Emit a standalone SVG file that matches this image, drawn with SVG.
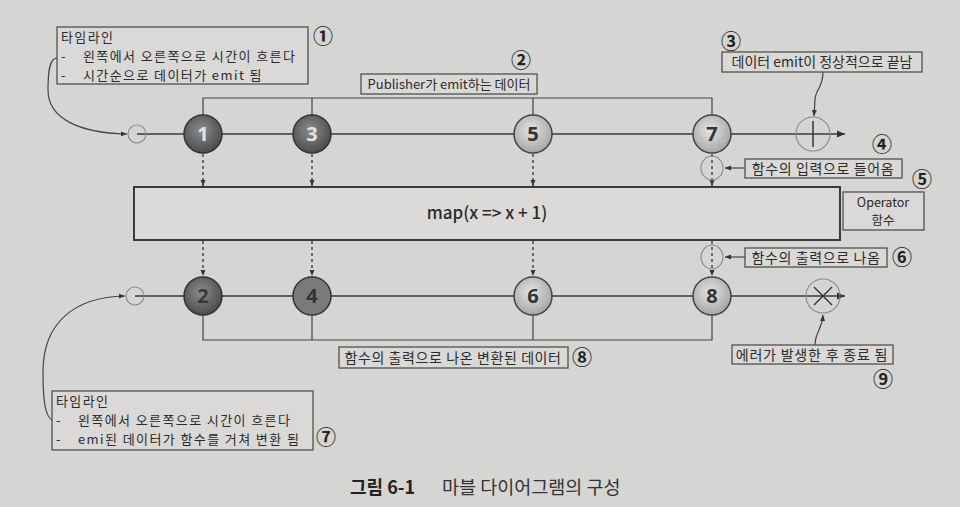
<svg xmlns="http://www.w3.org/2000/svg" width="960" height="507" viewBox="0 0 960 507">
<defs>
<style>
.t{font-family:"Noto Sans CJK KR","Noto Sans",sans-serif;fill:#2b2b2b;font-size:14px}
.c{text-anchor:middle}
.big{font-size:13px;letter-spacing:1.4px}
.num{font-family:"Noto Sans","Liberation Sans",sans-serif;font-weight:bold;font-size:20px;text-anchor:middle}
.cn{font-family:"Noto Sans CJK KR",sans-serif;font-weight:bold;font-size:20px;fill:#222;text-anchor:middle}
.box{fill:#dad9d7;stroke:#505050;stroke-width:1.3}
.ln{fill:none;stroke:#3a3a3a;stroke-width:1.5}
.thin{fill:none;stroke:#444;stroke-width:1.2}
.dash{fill:none;stroke:#333;stroke-width:1.3;stroke-dasharray:3 3}
.ghost{fill:none;stroke:#8a8a8a;stroke-width:1.1}
.dk{stroke:#333;stroke-width:1.5;fill:url(#gd)}
.lt{stroke:#444;stroke-width:1.5;fill:url(#gl)}
</style>
<radialGradient id="gd" cx="0.45" cy="0.4" r="0.6"><stop offset="0" stop-color="#8c8c8c"/><stop offset="1" stop-color="#4c4c4c"/></radialGradient>
<radialGradient id="gl" cx="0.45" cy="0.4" r="0.6"><stop offset="0" stop-color="#e4e4e2"/><stop offset="1" stop-color="#a6a6a4"/></radialGradient>
<marker id="ah" viewBox="0 0 8 8" refX="8" refY="4" markerWidth="8" markerHeight="8" markerUnits="userSpaceOnUse" orient="auto"><path d="M0,0.5 L8,4 L0,7.5 z" fill="#333"/></marker>
<marker id="as" viewBox="0 0 6 6" refX="6" refY="3" markerWidth="6" markerHeight="6" markerUnits="userSpaceOnUse" orient="auto"><path d="M0,0.5 L6,3 L0,5.5 z" fill="#333"/></marker>
</defs>
<rect width="960" height="507" fill="#d5d5d3"/>

<g id="connectors">
<path class="ln" d="M137,134 H845" marker-end="url(#ah)"/>
<path class="ln" d="M135,296 H845" marker-end="url(#ah)"/>
<path class="thin" d="M203,115 V98 H712 V115 M312,98 V115 M533,98 V115"/>
<path class="thin" d="M203,315 V340 H712 V315 M312,340 V315 M533,340 V315"/>
<path class="dash" d="M203,154 V186" marker-end="url(#as)"/>
<path class="dash" d="M312,154 V186" marker-end="url(#as)"/>
<path class="dash" d="M533,154 V186" marker-end="url(#as)"/>
<path class="dash" d="M712,154 V186" marker-end="url(#as)"/>
<path class="dash" d="M203,241 V276" marker-end="url(#as)"/>
<path class="dash" d="M312,241 V276" marker-end="url(#as)"/>
<path class="dash" d="M533,241 V276" marker-end="url(#as)"/>
<path class="dash" d="M712,241 V276" marker-end="url(#as)"/>
<path class="thin" d="M57,58 C50,58 48,70 48,90 C48,118 78,133 127,134" marker-end="url(#as)"/>
<path class="thin" d="M52,420 C45,416 43,400 43,372 C43,322 75,297 125,296" marker-end="url(#as)"/>
<path class="thin" d="M823,72 C823,88 815,90 815,100 L814,116" marker-end="url(#as)"/>
<path class="thin" d="M815,345 C815,332 822,330 823,315" marker-end="url(#as)"/>
<path class="thin" d="M745,168 H725" marker-end="url(#as)"/>
<path class="thin" d="M745,257 H725" marker-end="url(#as)"/>
</g>

<g id="start-top"><circle class="ghost" cx="137" cy="134" r="9"/></g>
<g id="start-bottom"><circle class="ghost" cx="135" cy="296" r="9"/></g>

<g id="m1"><circle class="dk" cx="203" cy="134" r="19"/><text class="num" x="203" y="141" fill="#e2e2e2">1</text></g>
<g id="m3"><circle class="dk" cx="312" cy="134" r="19"/><text class="num" x="312" y="141" fill="#e2e2e2">3</text></g>
<g id="m5"><circle class="lt" cx="533" cy="134" r="19"/><text class="num" x="533" y="141" fill="#333">5</text></g>
<g id="m7"><circle class="lt" cx="712" cy="134" r="19"/><text class="num" x="712" y="141" fill="#333">7</text></g>
<g id="complete"><circle class="ghost" cx="813" cy="134" r="17"/><path d="M813,121 V147" stroke="#333" stroke-width="1.5"/></g>

<g id="m2"><circle class="dk" cx="203" cy="296" r="19"/><text class="num" x="203" y="303" fill="#3a3a3a">2</text></g>
<g id="m4"><circle class="dk" cx="312" cy="296" r="19" style="fill:#7a7a7a"/><text class="num" x="312" y="303" fill="#333">4</text></g>
<g id="m6"><circle class="lt" cx="533" cy="296" r="19"/><text class="num" x="533" y="303" fill="#333">6</text></g>
<g id="m8"><circle class="lt" cx="712" cy="296" r="19"/><text class="num" x="712" y="303" fill="#333">8</text></g>
<g id="error"><circle class="ghost" cx="823" cy="296" r="17"/><path d="M814,287 L832,305 M832,287 L814,305" stroke="#333" stroke-width="1.4"/></g>

<g id="in-mark"><ellipse class="ghost" cx="712" cy="168" rx="11" ry="12"/></g>
<g id="out-mark"><ellipse class="ghost" cx="712" cy="257" rx="11" ry="12"/></g>

<g id="operator">
<rect x="134" y="187" width="706" height="53" fill="#dbdad8" stroke="#3a3a3a" stroke-width="2"/>
<text class="t c" x="487" y="219" style="font-size:17px;font-weight:500">map(x =&gt; x + 1)</text>
</g>

<g id="note1">
<rect class="box" x="57" y="27" width="251" height="57"/>
<text class="t big"><tspan x="61" y="42">타임라인</tspan><tspan x="61" y="61">-</tspan><tspan x="83" y="61">왼쪽에서 오른쪽으로 시간이 흐른다</tspan><tspan x="61" y="80">-</tspan><tspan x="83" y="80">시간순으로 데이터가 emit 됨</tspan></text>
<text class="cn" x="323" y="44">①</text>
</g>

<g id="note2">
<rect class="box" x="361" y="74" width="176" height="20"/>
<text class="t c" x="449" y="89" style="font-size:13px">Publisher가 emit하는 데이터</text>
<text class="cn" x="521" y="68">②</text>
</g>

<g id="note3">
<rect class="box" x="722" y="52" width="200" height="20"/>
<text class="t c" x="822" y="67">데이터 emit이 정상적으로 끝남</text>
<text class="cn" x="731" y="49">③</text>
</g>

<g id="note4">
<rect class="box" x="745" y="159" width="157" height="19"/>
<text class="t c" x="823" y="174" style="letter-spacing:0.6px">함수의 입력으로 들어옴</text>
<text class="cn" x="882" y="152">④</text>
</g>

<g id="note5">
<rect class="box" x="843" y="192" width="81" height="38"/>
<text class="t c" x="883" y="207" style="font-size:12.5px">Operator</text>
<text class="t c" x="883" y="225" style="font-size:12.5px">함수</text>
<text class="cn" x="922" y="187">⑤</text>
</g>

<g id="note6">
<rect class="box" x="745" y="248" width="142" height="19"/>
<text class="t c" x="816" y="263" style="letter-spacing:0.6px">함수의 출력으로 나옴</text>
<text class="cn" x="902" y="265">⑥</text>
</g>

<g id="note7">
<rect class="box" x="52" y="391" width="261" height="59"/>
<text class="t big"><tspan x="56" y="406">타임라인</tspan><tspan x="56" y="425">-</tspan><tspan x="78" y="425">왼쪽에서 오른쪽으로 시간이 흐른다</tspan><tspan x="56" y="444">-</tspan><tspan x="78" y="444">emi된 데이터가 함수를 거쳐 변환 됨</tspan></text>
<text class="cn" x="326" y="445">⑦</text>
</g>

<g id="note8">
<rect class="box" x="339" y="347" width="229" height="21"/>
<text class="t c" x="453" y="363" style="letter-spacing:0.6px">함수의 출력으로 나온 변환된 데이터</text>
<text class="cn" x="582" y="365">⑧</text>
</g>

<g id="note9">
<rect class="box" x="732" y="345" width="161" height="19"/>
<text class="t c" x="812" y="360" style="letter-spacing:0.8px">에러가 발생한 후 종료 됨</text>
<text class="cn" x="883" y="387">⑨</text>
</g>

<g id="caption">
<text class="t" x="350" y="494" style="font-size:18px;font-weight:bold;fill:#222">그림 6-1</text>
<text class="t" x="442" y="494" style="font-size:18.5px;fill:#333">마블 다이어그램의 구성</text>
</g>
</svg>
